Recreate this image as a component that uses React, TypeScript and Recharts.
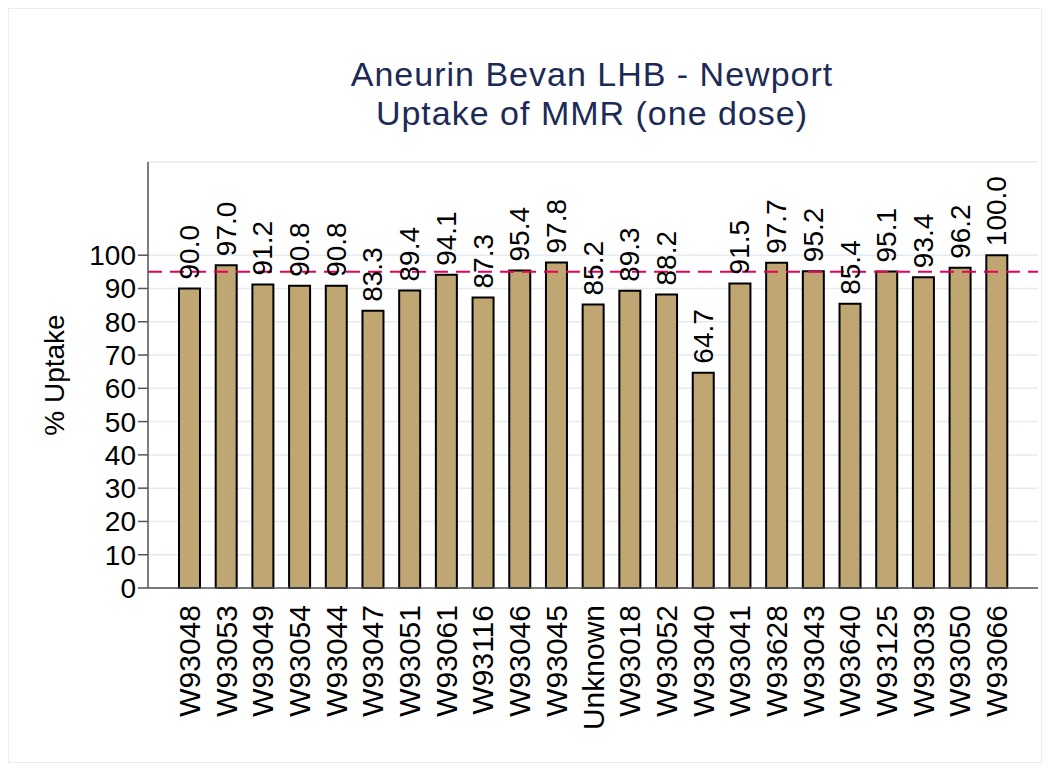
import { Bar, BarChart, CartesianGrid, LabelList, ReferenceLine, XAxis, YAxis } from "recharts";

const practices = [
  "W93048", "W93053", "W93049", "W93054", "W93044", "W93047", "W93051", "W93061",
  "W93116", "W93046", "W93045", "Unknown", "W93018", "W93052", "W93040", "W93041",
  "W93628", "W93043", "W93640", "W93125", "W93039", "W93050", "W93066",
];
const uptake = [
  90.0, 97.0, 91.2, 90.8, 90.8, 83.3, 89.4, 94.1, 87.3, 95.4, 97.8, 85.2,
  89.3, 88.2, 64.7, 91.5, 97.7, 95.2, 85.4, 95.1, 93.4, 96.2, 100.0,
];
const yTicks = [0, 10, 20, 30, 40, 50, 60, 70, 80, 90, 100];
const target = 95;

const font = "'Liberation Sans', Arial, Helvetica, sans-serif";

function XTick({ x, y, payload }: any) {
  return (
    <text
      x={x}
      y={y + 9}
      transform={`rotate(-90, ${x}, ${y + 9})`}
      textAnchor="end"
      dominantBaseline="central"
      fontSize={30}
      fontFamily={font}
      fill="#000"
    >
      {payload.value}
    </text>
  );
}

function ValueLabel({ x, y, width, value }: any) {
  const cx = x + width / 2;
  const ty = y - 9;
  return (
    <text
      x={cx}
      y={ty}
      transform={`rotate(-90, ${cx}, ${ty})`}
      textAnchor="start"
      dominantBaseline="central"
      fontSize={28}
      fontFamily={font}
      fill="#000"
    >
      {Number(value).toFixed(1)}
    </text>
  );
}

function YTitle({ viewBox }: any) {
  const cy = viewBox.y + viewBox.height / 2;
  return (
    <text
      x={45}
      y={cy}
      transform={`rotate(-90, 45, ${cy})`}
      textAnchor="middle"
      dominantBaseline="central"
      fontSize={28}
      fontFamily={font}
      fill="#000"
    >
      % Uptake
    </text>
  );
}

export default function App() {
  const data = practices.map((p, i) => ({ practice: p, uptake: uptake[i] }));

  return (
    <div
      style={{
        position: "relative",
        width: 1034,
        height: 755,
        border: "1px solid #e6eef0",
        boxSizing: "border-box",
        background: "#fff",
        fontFamily: font,
      }}
    >
      <div
        style={{
          position: "absolute",
          left: 283,
          width: 600,
          top: 46,
          textAlign: "center",
          fontSize: 34,
          lineHeight: "39px",
          letterSpacing: 1,
          color: "#1c2a55",
          whiteSpace: "nowrap",
        }}
      >
        <div>Aneurin Bevan LHB - Newport</div>
        <div>Uptake of MMR (one dose)</div>
      </div>
      <BarChart
        width={1032}
        height={753}
        data={data}
        margin={{ top: 153, right: 3, left: 79, bottom: 4 }}
        barSize={21}
      >
        <CartesianGrid vertical={false} stroke="#e4ecef" strokeWidth={1.5} />
        <XAxis
          dataKey="practice"
          interval={0}
          height={170}
          padding={{ left: 23, right: 23 }}
          tickLine={false}
          axisLine={{ stroke: "#555", strokeWidth: 1.5 }}
          tick={<XTick />}
        />
        <YAxis
          domain={[0, 128]}
          ticks={yTicks}
          interval={0}
          width={60}
          tickSize={10}
          tickLine={{ stroke: "#555", strokeWidth: 1.5 }}
          axisLine={{ stroke: "#555", strokeWidth: 1.5 }}
          tick={{ fontSize: 28, fill: "#000", fontFamily: font }}
          label={{ content: <YTitle /> }}
        />
        <ReferenceLine y={target} stroke="#e8005a" strokeWidth={2} strokeDasharray="14 8" />
        <Bar dataKey="uptake" fill="#bfa672" stroke="#000" strokeWidth={2} isAnimationActive={false}>
          <LabelList dataKey="uptake" content={<ValueLabel />} />
        </Bar>
      </BarChart>
    </div>
  );
}
